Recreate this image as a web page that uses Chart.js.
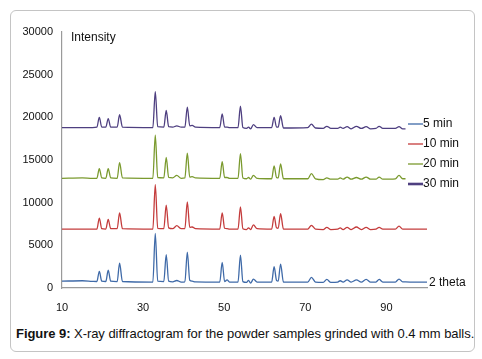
<!DOCTYPE html>
<html lang="en">

<head>
    <meta charset="UTF-8">
    <title>XRD</title>
    <style>
        body { margin: 0; background: #fff; font-family: "Liberation Sans", Arial, sans-serif; }
        #box {
            position: absolute; left: 10px; top: 10px; width: 463px; height: 340px;
            border: 1.5px solid #c4c4c4; border-radius: 6px;
        }
        #wrap { position: absolute; left: 0; top: 0; width: 482px; height: 320px; }
        #caption {
            position: absolute; left: 16px; top: 326px; font-size: 13px; color: #111;
            white-space: nowrap; letter-spacing: -0.05px;
        }
    </style>
</head>

<body>
    <div id="box"></div>
    <div id="wrap"><canvas id="myChart" width="482" height="320"></canvas></div>
    <div id="caption"><b>Figure 9:</b> X-ray diffractogram for the powder samples grinded with 0.4 mm balls.</div>

    <script src="https://cdn.jsdelivr.net/npm/chart.js@4.4.1/dist/chart.umd.min.js"></script>
    <script>
        // 2 theta positions (degrees)
        const twoTheta = [10, 15, 17.5, 18.6, 19.2, 19.8, 20.8, 21.4, 22.0, 23.6, 24.2, 24.9,
            32.4, 33.0, 33.6, 35.1, 35.7, 36.3, 37.3, 38.3, 39.4, 40.3, 40.9, 41.5, 42.1, 42.9,
            48.9, 49.5, 50.1, 50.7, 51.3, 53.4, 54.0, 54.6, 55.5, 56.0, 56.5, 57.2, 58.1,
            61.7, 62.3, 62.9, 63.3, 63.9, 64.6, 70.6, 71.5, 72.5, 74.4, 75.3, 76.3,
            78.0, 78.6, 79.3, 80.3, 81.3, 82.6, 83.8, 85.0, 86.1, 87.4, 88.2, 89.1,
            92.2, 93.1, 94.0, 94.7, 97, 100];

        const min5 = [800, 850, 780, 760, 1950, 800, 760, 2100, 800, 750, 2900, 760,
            700, 6400, 800, 750, 3900, 800, 720, 880, 700, 720, 4200, 900, 800, 720,
            700, 3000, 750, 950, 700, 700, 3850, 750, 650, 900, 560, 1050, 700,
            700, 2500, 900, 800, 2800, 700, 700, 1250, 700, 650, 1000, 650,
            700, 850, 700, 950, 700, 950, 680, 1000, 680, 700, 1000, 700,
            700, 1050, 720, 720, 680, 680];

        const min10 = [6900, 6900, 6900, 6900, 8200, 6950, 6900, 8050, 6950, 6950, 8800, 6950,
            6900, 12100, 7000, 6950, 9700, 7050, 6950, 7300, 6950, 6950, 10100, 7100, 7150, 6950,
            6900, 8800, 7000, 6950, 6900, 6900, 9500, 6950, 6850, 7050, 6850, 7400, 6950,
            6900, 8400, 7050, 7000, 8700, 6900, 6900, 7350, 6900, 6850, 7100, 6850,
            6900, 7050, 6850, 7100, 6850, 7150, 6850, 7100, 6850, 6900, 7100, 6900,
            6900, 7250, 6900, 6900, 6900, 6900];

        const min20 = [12850, 12900, 12850, 12850, 14000, 12900, 12850, 14000, 12900, 12850, 14700, 12900,
            12850, 17900, 12950, 12900, 15300, 12950, 12900, 13200, 12850, 12900, 15800, 13000, 13050, 12900,
            12850, 14800, 12950, 12950, 12850, 12850, 15750, 12900, 12800, 12950, 12750, 13200, 12850,
            12800, 14300, 12950, 12900, 14550, 12800, 12800, 13400, 12800, 12700, 12900, 12750,
            12750, 12900, 12750, 13000, 12750, 12950, 12750, 13000, 12750, 12750, 13000, 12750,
            12800, 13200, 12800, 12800, null, null];

        const min30 = [18800, 18800, 18800, 18850, 20000, 18850, 18850, 19850, 18850, 18850, 20300, 18850,
            18800, 23000, 18900, 18850, 20800, 18900, 18850, 19000, 18850, 18850, 21200, 19000, 19050, 18850,
            18800, 20400, 18850, 18850, 18800, 18800, 21300, 18800, 18700, 18850, 18650, 19150, 18800,
            18800, 20000, 18850, 18850, 20200, 18750, 18800, 19200, 18750, 18700, 18950, 18700,
            18700, 18850, 18700, 18900, 18650, 18950, 18700, 18900, 18650, 18700, 18950, 18700,
            18700, 18900, 18650, 18650, null, null];

        const xTicks = [10, 30, 50, 70, 90];
        const seriesNames = ['5 min', '10 min', '20 min', '30 min'];
        const seriesColors = ['#3f6aa8', '#c43c3c', '#7a9a2e', '#4e3f80'];

        function toPoints(arr) {
            return twoTheta.map((t, i) => ({ x: t, y: arr[i] }));
        }

        const allSeries = [min5, min10, min20, min30];
        const datasets = allSeries.map((arr, i) => ({
            label: seriesNames[i],
            data: toPoints(arr),
            borderColor: seriesColors[i],
            borderWidth: 1.3,
            legendWidth: i === 3 ? 2.6 : 1.3,
            pointRadius: 0,
            cubicInterpolationMode: 'monotone',
            spanGaps: false,
            fill: false
        }));

        // 軸文字與圖例
        const extras = {
            id: 'extras',
            afterDraw(chart) {
                const ctx = chart.ctx;
                ctx.save();
                ctx.fillStyle = '#111';
                ctx.font = '12px "Liberation Sans", Arial, sans-serif';
                ctx.textBaseline = 'middle';
                ctx.textAlign = 'left';
                ctx.fillText('Intensity', 71, 38);
                ctx.fillText('2 theta', 429, 283);
                chart.data.datasets.forEach((ds, i) => {
                    const y = 124 + i * 20;
                    ctx.strokeStyle = ds.borderColor;
                    ctx.lineWidth = ds.legendWidth;
                    ctx.beginPath();
                    ctx.moveTo(408, y);
                    ctx.lineTo(423, y);
                    ctx.stroke();
                    ctx.fillText(ds.label, 423, y);
                });
                ctx.restore();
            }
        };

        const ctx = document.getElementById('myChart').getContext('2d');
        const myChart = new Chart(ctx, {
            type: 'line',
            data: { datasets: datasets },
            plugins: [extras],
            options: {
                responsive: false,
                animation: false,
                layout: { padding: { left: 0, top: 32, right: 55, bottom: 0 } },
                scales: {
                    x: {
                        type: 'linear',
                        min: 10,
                        max: 100,
                        afterBuildTicks: (scale) => { scale.ticks = xTicks.map(v => ({ value: v })); },
                        afterFit: (scale) => { scale.height = 32; },
                        grid: { color: 'transparent', drawTicks: false },
                        border: { display: true, color: '#9a9a9a', width: 1.2 },
                        ticks: {
                            padding: 13,
                            color: '#111',
                            maxRotation: 0,
                            callback: (v) => String(v),
                            font: { size: 11, family: '"Liberation Sans", Arial, sans-serif' }
                        }
                    },
                    y: {
                        min: 0,
                        max: 30000,
                        afterFit: (scale) => { scale.width = 62; },
                        grid: { color: 'transparent', drawTicks: false },
                        border: { display: true, color: '#9a9a9a', width: 1.2 },
                        ticks: {
                            stepSize: 5000,
                            padding: 9,
                            color: '#111',
                            callback: (v) => String(v),
                            font: { size: 11, family: '"Liberation Sans", Arial, sans-serif' }
                        }
                    }
                },
                plugins: {
                    legend: { display: false },
                    tooltip: { enabled: false }
                }
            }
        });
    </script>
</body>

</html>
